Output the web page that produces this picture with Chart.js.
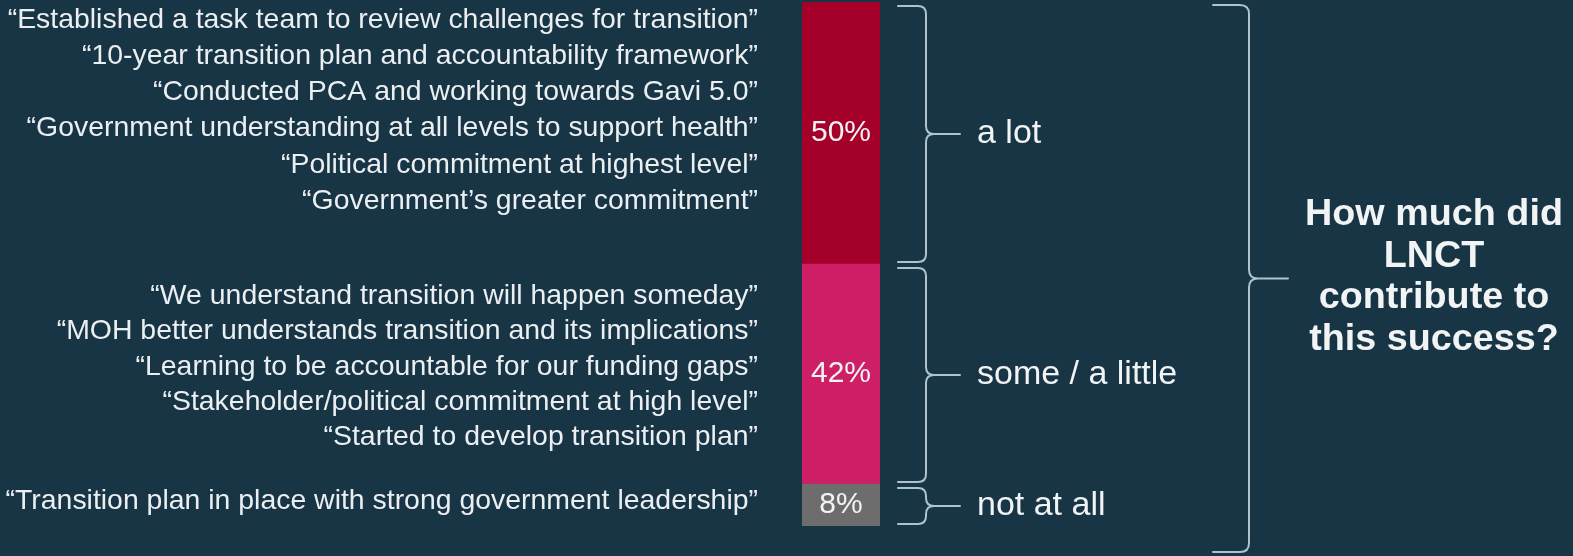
<!DOCTYPE html>
<html>
<head>
<meta charset="utf-8">
<script src="https://cdn.jsdelivr.net/npm/chart.js@4.4.1/dist/chart.umd.min.js"></script>
<style>
  html, body { margin: 0; padding: 0; background: #173545; }
  #wrap { width: 1573px; height: 556px; }
</style>
</head>
<body>
<div id="wrap"><canvas id="c" width="1573" height="556"></canvas></div>
<script>
// ---- data ----
const categories = ['LNCT contribution'];
const levelLabels = ['not at all', 'some / a little', 'a lot'];   // bottom to top
const levelShares = [8, 42, 50];                                  // percent of respondents
const quotesNotAtAll = [
  '\u201cTransition plan in place with strong government leadership\u201d'
];
const quotesSome = [
  '\u201cWe understand transition will happen someday\u201d',
  '\u201cMOH better understands transition and its implications\u201d',
  '\u201cLearning to be accountable for our funding gaps\u201d',
  '\u201cStakeholder/political commitment at high level\u201d',
  '\u201cStarted to develop transition plan\u201d'
];
const quotesALot = [
  '\u201cEstablished a task team to review challenges for transition\u201d',
  '\u201c10-year transition plan and accountability framework\u201d',
  '\u201cConducted PCA and working towards Gavi 5.0\u201d',
  '\u201cGovernment understanding at all levels to support health\u201d',
  '\u201cPolitical commitment at highest level\u201d',
  '\u201cGovernment\u2019s greater commitment\u201d'
];
const questionLines = ['How much did', 'LNCT', 'contribute to', 'this success?'];

// ---- styles ----
const BG = '#173545';
const segmentColors = ['#6d6d6d', '#cd1e66', '#a5002a'];
const TEXT = '#f1f3f4';
const QUOTE_TEXT = '#eceff1';
const BRACE = '#aec3cc';
const FONT = '"Liberation Sans", Arial, sans-serif';
// quote blocks hang from the top edge of their segment
const quoteGroups = [
  { lines: quotesNotAtAll, gap: 36, first: 17 },
  { lines: quotesSome, gap: 35.4, first: 32 },
  { lines: quotesALot, gap: 36.2, first: 18 }
];

function stretchedText(ctx, text, x, y, font, align, sx) {
  ctx.save();
  ctx.font = font;
  ctx.textAlign = align;
  ctx.textBaseline = 'middle';
  ctx.translate(x, y);
  ctx.scale(sx, 1);
  ctx.fillText(text, 0, 0);
  ctx.restore();
}

function brace(ctx, xL, xV, xTip, yT, yB, r) {
  const yM = (yT + yB) / 2;
  ctx.beginPath();
  ctx.moveTo(xL, yT);
  ctx.lineTo(xV - r, yT);
  ctx.quadraticCurveTo(xV, yT, xV, yT + r);
  ctx.lineTo(xV, yM - r);
  ctx.quadraticCurveTo(xV, yM, xV + r, yM);
  ctx.lineTo(xTip, yM);
  ctx.moveTo(xV + r, yM);
  ctx.quadraticCurveTo(xV, yM, xV, yM + r);
  ctx.lineTo(xV, yB - r);
  ctx.quadraticCurveTo(xV, yB, xV - r, yB);
  ctx.lineTo(xL, yB);
  ctx.stroke();
  return yM;
}

const backgroundPlugin = {
  id: 'background',
  beforeDraw(chart) {
    const ctx = chart.ctx;
    ctx.save();
    ctx.fillStyle = BG;
    ctx.fillRect(0, 0, chart.width, chart.height);
    ctx.restore();
  }
};

const annotationPlugin = {
  id: 'annotations',
  afterDatasetsDraw(chart) {
    const ctx = chart.ctx;
    const area = chart.chartArea;
    ctx.save();
    ctx.strokeStyle = BRACE;
    ctx.lineWidth = 2;
    ctx.lineCap = 'round';

    chart.data.datasets.forEach((ds, i) => {
      const bar = chart.getDatasetMeta(i).data[0];
      const top = Math.min(bar.y, bar.base);
      const bottom = Math.max(bar.y, bar.base);
      const mid = (top + bottom) / 2;

      // value inside the segment
      ctx.fillStyle = TEXT;
      stretchedText(ctx, ds.data[0] + '%', bar.x, mid, '30px ' + FONT, 'center', 1.0);

      // brace + level label
      const yM = brace(ctx, area.right + 18, area.right + 46, area.right + 80, top + 4, bottom - 2, 8);
      stretchedText(ctx, ds.label, area.right + 97, yM, '33px ' + FONT, 'left', 1.03);

      // respondent quotes
      ctx.fillStyle = QUOTE_TEXT;
      const g = quoteGroups[i];
      g.lines.forEach((q, k) => {
        stretchedText(ctx, q, area.left - 44, top + g.first + k * g.gap, '28px ' + FONT, 'right', 1.015);
      });
    });

    // overall brace and question
    const bigMid = brace(ctx, 1213, 1249, 1288, area.top + 3, area.bottom + 26, 9);
    ctx.fillStyle = TEXT;
    const lh = 41.5;
    const firstQ = bigMid - 1 - lh * (questionLines.length - 1) / 2;
    questionLines.forEach((t, k) => {
      stretchedText(ctx, t, 1434, firstQ + k * lh, 'bold 37px ' + FONT, 'center', 1.02);
    });
    ctx.restore();
  }
};

new Chart(document.getElementById('c'), {
  type: 'bar',
  data: {
    labels: categories,
    datasets: levelLabels.map((lab, i) => ({
      label: lab,
      data: [levelShares[i]],
      backgroundColor: segmentColors[i],
      borderWidth: 0,
      barPercentage: 1,
      categoryPercentage: 1
    }))
  },
  options: {
    responsive: false,
    devicePixelRatio: 1,
    animation: false,
    layout: { padding: { left: 802, right: 693, top: 2, bottom: 30 } },
    plugins: { legend: { display: false }, tooltip: { enabled: false } },
    scales: {
      x: { stacked: true, display: false },
      y: { stacked: true, display: false, min: 0, max: 100 }
    }
  },
  plugins: [backgroundPlugin, annotationPlugin]
});
</script>
</body>
</html>
